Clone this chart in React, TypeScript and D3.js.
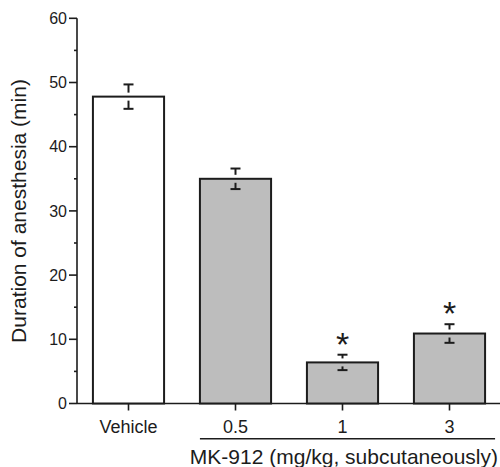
import * as d3 from "d3";
import { useEffect, useRef } from "react";

// groups and values
const groups = ["Vehicle", "0.5", "1", "3"];
const means = [47.8, 35.0, 6.4, 10.9];
const sems = [1.9, 1.6, 1.2, 1.45];
const significant = [false, false, true, true];
const barFills = ["#ffffff", "#bdbdbd", "#bdbdbd", "#bdbdbd"];
const yTicks = [0, 10, 20, 30, 40, 50, 60];
const yMinorTicks = [5, 15, 25, 35, 45, 55];

function App() {
    const ref = useRef<SVGSVGElement>(null);

    useEffect(() => {
        const width = 500,
            height = 467;
        const ink = "#1c1c1c";
        const font = "'Liberation Sans', Arial, Helvetica, sans-serif";

        const svg = d3.select(ref.current);
        svg.selectAll("*").remove();
        svg.attr("width", width).attr("height", height);

        const x = d3
            .scaleBand()
            .domain(groups)
            .range([75, 503])
            .paddingInner(0.335)
            .paddingOuter(0.1675);

        const y = d3.scaleLinear().domain([0, 60]).range([403.5, 18.3]);

        const data = groups.map((g, i) => ({
            group: g,
            mean: means[i],
            sem: sems[i],
            sig: significant[i],
            fill: barFills[i],
        }));

        // y axis
        const yAxis = svg.append("g").attr("transform", "translate(77,0)");
        yAxis
            .append("line")
            .attr("x1", 0)
            .attr("x2", 0)
            .attr("y1", y(60))
            .attr("y2", y(0))
            .attr("stroke", ink)
            .attr("stroke-width", 1.6);
        yAxis
            .selectAll("line.major")
            .data(yTicks)
            .enter()
            .append("line")
            .attr("class", "major")
            .attr("x1", -8)
            .attr("x2", 0)
            .attr("y1", (d) => y(d))
            .attr("y2", (d) => y(d))
            .attr("stroke", ink)
            .attr("stroke-width", 1.6);
        yAxis
            .selectAll("line.minor")
            .data(yMinorTicks)
            .enter()
            .append("line")
            .attr("class", "minor")
            .attr("x1", -3)
            .attr("x2", 0)
            .attr("y1", (d) => y(d))
            .attr("y2", (d) => y(d))
            .attr("stroke", ink)
            .attr("stroke-width", 1.6);
        yAxis
            .selectAll("text")
            .data(yTicks)
            .enter()
            .append("text")
            .attr("x", -10)
            .attr("y", (d) => y(d))
            .attr("dy", "0.36em")
            .attr("text-anchor", "end")
            .attr("font-family", font)
            .attr("font-size", 16)
            .attr("fill", ink)
            .text((d) => d);

        svg
            .append("text")
            .attr("transform", "translate(26,211) rotate(-90)")
            .attr("text-anchor", "middle")
            .attr("font-family", font)
            .attr("font-size", 21)
            .attr("fill", ink)
            .text("Duration of anesthesia (min)");

        // x axis
        svg
            .append("line")
            .attr("x1", 77)
            .attr("x2", width)
            .attr("y1", y(0))
            .attr("y2", y(0))
            .attr("stroke", ink)
            .attr("stroke-width", 1.6);

        // bars
        svg
            .selectAll("rect.bar")
            .data(data)
            .enter()
            .append("rect")
            .attr("class", "bar")
            .attr("x", (d) => x(d.group)!)
            .attr("y", (d) => y(d.mean))
            .attr("width", x.bandwidth())
            .attr("height", (d) => y(0) - y(d.mean))
            .attr("fill", (d) => d.fill)
            .attr("stroke", ink)
            .attr("stroke-width", 2);

        // error bars: the stem stops short of the bar's top edge on both sides
        const cx = (d: { group: string }) => x(d.group)! + x.bandwidth() / 2;
        const gap = 4;
        const err = svg.append("g").attr("stroke", ink).attr("stroke-width", 2);
        err
            .selectAll("line.stemup")
            .data(data)
            .enter()
            .append("line")
            .attr("x1", cx)
            .attr("x2", cx)
            .attr("y1", (d) => y(d.mean + d.sem))
            .attr("y2", (d) => y(d.mean) - gap);
        err
            .selectAll("line.stemdown")
            .data(data)
            .enter()
            .append("line")
            .attr("x1", cx)
            .attr("x2", cx)
            .attr("y1", (d) => y(d.mean) + gap)
            .attr("y2", (d) => y(d.mean - d.sem));
        [1, -1].forEach((s) => {
            err
                .selectAll("line.cap" + (s > 0 ? "up" : "down"))
                .data(data)
                .enter()
                .append("line")
                .attr("x1", (d) => cx(d) - 5)
                .attr("x2", (d) => cx(d) + 5)
                .attr("y1", (d) => y(d.mean + s * d.sem))
                .attr("y2", (d) => y(d.mean + s * d.sem));
        });

        // asterisks
        svg
            .selectAll("text.sig")
            .data(data.filter((d) => d.sig))
            .enter()
            .append("text")
            .attr("class", "sig")
            .attr("x", cx)
            .attr("y", (d) => y(d.mean + d.sem) + 1)
            .attr("text-anchor", "middle")
            .attr("font-family", font)
            .attr("font-size", 34)
            .attr("fill", ink)
            .text("*");

        // x ticks and labels
        svg
            .selectAll("line.xtick")
            .data(data)
            .enter()
            .append("line")
            .attr("class", "xtick")
            .attr("x1", cx)
            .attr("x2", cx)
            .attr("y1", y(0))
            .attr("y2", y(0) + 7)
            .attr("stroke", ink)
            .attr("stroke-width", 1.6);
        svg
            .selectAll("text.xlabel")
            .data(data)
            .enter()
            .append("text")
            .attr("class", "xlabel")
            .attr("x", cx)
            .attr("y", 433)
            .attr("text-anchor", "middle")
            .attr("font-family", font)
            .attr("font-size", 18)
            .attr("fill", ink)
            .text((d) => d.group);

        // MK-912 group bracket
        svg
            .append("line")
            .attr("x1", x("0.5")!)
            .attr("x2", x("3")! + x.bandwidth() + 10)
            .attr("y1", 438.7)
            .attr("y2", 438.7)
            .attr("stroke", ink)
            .attr("stroke-width", 1.5);
        svg
            .append("text")
            .attr("x", 498)
            .attr("y", 464)
            .attr("text-anchor", "end")
            .attr("font-family", font)
            .attr("font-size", 21)
            .attr("fill", ink)
            .text("MK-912 (mg/kg, subcutaneously)");
    }, []);

    return (
        <svg
            ref={ref}
            style={{ position: "absolute", left: 0, top: 0, background: "#fff" }}
        ></svg>
    );
}

export default App;
